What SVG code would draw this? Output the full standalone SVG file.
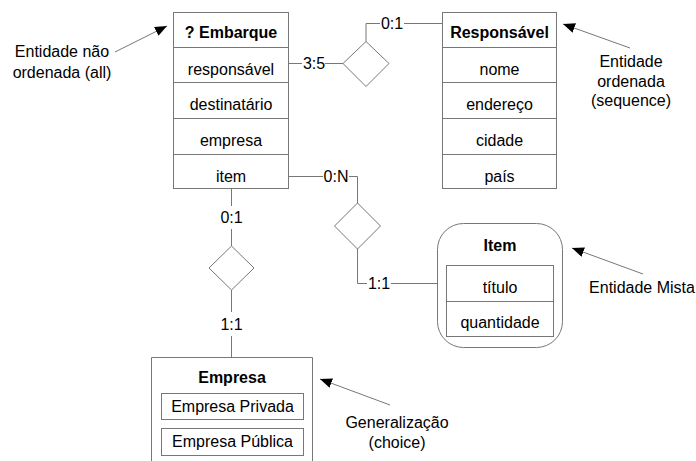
<svg xmlns="http://www.w3.org/2000/svg" width="696" height="461" viewBox="0 0 696 461">
  <style>
    .box { fill: #fff; stroke: #777; stroke-width: 1; }
    .div { stroke: #777; stroke-width: 1; fill: none; }
    .line { stroke: #777; stroke-width: 1; fill: none; }
    .rel { fill: #fff; stroke: #777; stroke-width: 1; }
    .note { stroke: #777; stroke-width: 1; fill: none; }
    text { font-family: "Liberation Sans", Arial, sans-serif; font-size: 16px; fill: #000; text-anchor: middle; }
    .title { font-weight: bold; }
  </style>
  <defs>
    <marker id="arrow" viewBox="0 0 12 10" refX="12" refY="5" markerWidth="12" markerHeight="10" markerUnits="userSpaceOnUse" orient="auto">
      <path d="M0,0 L12,5 L0,10 Z" fill="#000"/>
    </marker>
  </defs>

  <rect width="696" height="461" fill="#fff"/>

  <!-- relationship lines and cardinalities -->
  <g id="connectors">
    <!-- Embarque.responsavel to Responsavel -->
    <path class="line" d="M289,63.5 H302 M325,63.5 H343"/>
    <text x="314" y="69">3:5</text>
    <path class="line" d="M366,41.5 V23.5 H380 M404,23.5 H442"/>
    <text x="392" y="29">0:1</text>
    <polygon class="rel" points="343,63.5 366,41.5 389,63.5 366,86.5"/>

    <!-- Embarque.item to Item -->
    <path class="line" d="M289,176.5 H323 M349,176.5 H357.5 V203"/>
    <text x="336" y="182">0:N</text>
    <polygon class="rel" points="334.5,226 357.5,203 380.5,226 357.5,249"/>
    <path class="line" d="M357.5,249 V283.5 H367 M391,283.5 H437"/>
    <text x="379" y="289">1:1</text>

    <!-- Embarque.empresa to Empresa -->
    <path class="line" d="M231.5,189 V206 M231.5,229 V246"/>
    <text x="231.5" y="223">0:1</text>
    <polygon class="rel" points="209,268 231.5,246 254,268 231.5,290"/>
    <path class="line" d="M231.5,290 V312 M231.5,336 V357"/>
    <text x="231.5" y="330">1:1</text>
  </g>

  <!-- unordered entity -->
  <g id="embarque">
    <rect class="box" x="173.5" y="12.5" width="115" height="176"/>
    <path class="div" d="M173.5,47.5 H288.5 M173.5,82.5 H288.5 M173.5,118.5 H288.5 M173.5,154.5 H288.5"/>
    <text class="title" x="231" y="38">? Embarque</text>
    <text x="231" y="75">responsável</text>
    <text x="231" y="110">destinatário</text>
    <text x="231" y="146">empresa</text>
    <text x="231" y="182">item</text>
  </g>

  <!-- ordered entity -->
  <g id="responsavel">
    <rect class="box" x="442.5" y="12.5" width="114" height="176"/>
    <path class="div" d="M442.5,47.5 H556.5 M442.5,82.5 H556.5 M442.5,118.5 H556.5 M442.5,154.5 H556.5"/>
    <text class="title" x="499.5" y="38">Responsável</text>
    <text x="499.5" y="75">nome</text>
    <text x="499.5" y="110">endereço</text>
    <text x="499.5" y="146">cidade</text>
    <text x="499.5" y="182">país</text>
  </g>

  <!-- mixed entity -->
  <g id="item">
    <rect class="box" x="437.5" y="223.5" width="125" height="124" rx="26" ry="26"/>
    <text class="title" x="500" y="251">Item</text>
    <rect class="box" x="446.5" y="265.5" width="107" height="71"/>
    <path class="div" d="M446.5,301.5 H553.5"/>
    <text x="500" y="293">título</text>
    <text x="500" y="328">quantidade</text>
  </g>

  <!-- generalization (choice) -->
  <g id="empresa">
    <path class="box" d="M151.5,461 V357.5 H312.5 V461"/>
    <text class="title" x="232" y="383">Empresa</text>
    <rect class="box" x="161.5" y="393.5" width="142" height="26"/>
    <text x="232.5" y="412">Empresa Privada</text>
    <rect class="box" x="161.5" y="428.5" width="142" height="27"/>
    <text x="232.5" y="447">Empresa Pública</text>
  </g>

  <!-- annotations -->
  <g id="note-all">
    <line class="note" x1="115" y1="52" x2="167" y2="26" marker-end="url(#arrow)"/>
    <text x="62" y="57">Entidade não</text>
    <text x="62" y="78">ordenada (all)</text>
  </g>
  <g id="note-sequence">
    <line class="note" x1="630" y1="48" x2="563" y2="24" marker-end="url(#arrow)"/>
    <text x="631" y="67">Entidade</text>
    <text x="631" y="87">ordenada</text>
    <text x="631" y="106">(sequence)</text>
  </g>
  <g id="note-mixed">
    <line class="note" x1="643" y1="274" x2="572" y2="248" marker-end="url(#arrow)"/>
    <text x="642" y="293">Entidade Mista</text>
  </g>
  <g id="note-choice">
    <line class="note" x1="390" y1="405" x2="320" y2="379" marker-end="url(#arrow)"/>
    <text x="397" y="428">Generalização</text>
    <text x="397" y="448">(choice)</text>
  </g>
</svg>
